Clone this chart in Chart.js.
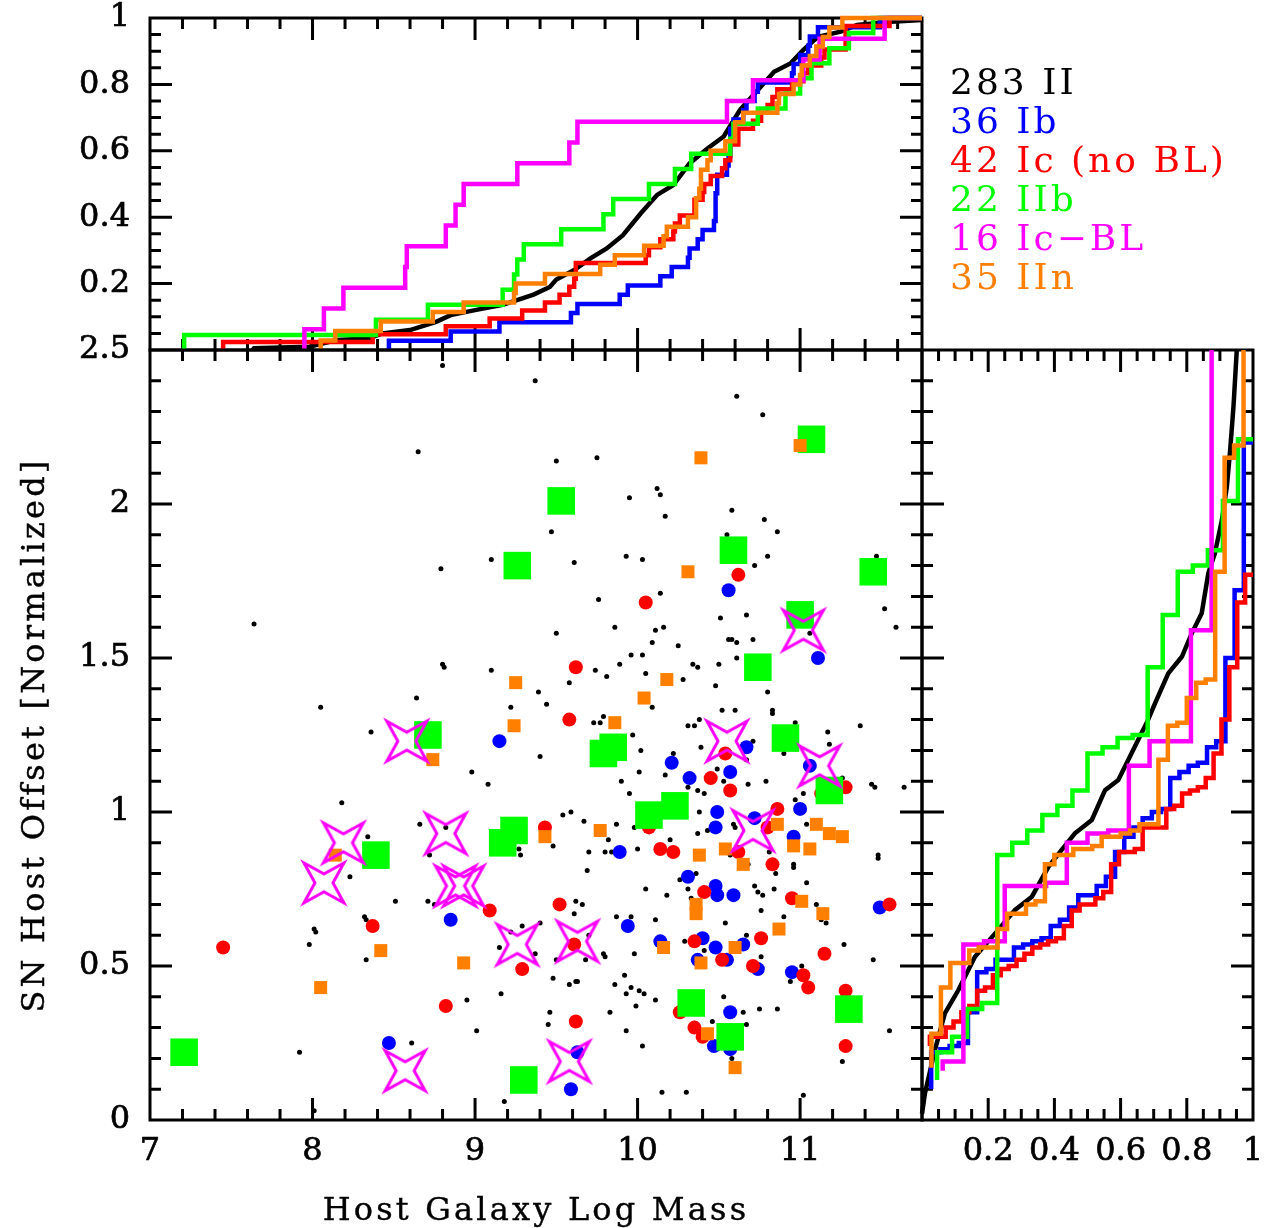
<!DOCTYPE html>
<html>
<head>
<meta charset="utf-8">
<script src="https://cdn.jsdelivr.net/npm/chart.js@4.4.1/dist/chart.umd.min.js"></script>
<style>
  html, body { margin: 0; background: #fff; }
  #wrap { position: relative; width: 1265px; height: 1228px; overflow: hidden; font-family: "DejaVu Serif", serif; }
  #wrap canvas { position: absolute; left: 0; top: 0; }
  .lab { position: absolute; white-space: pre; color: #000; }
  #xtitle { left: 136px; width: 800px; top: 1189px; text-align: center; font-size: 32px; line-height: 40px; letter-spacing: 3.2px; -webkit-text-stroke: 0.4px #000; }
  #ytitle { left: -317px; top: 715px; width: 700px; text-align: center; font-size: 32px; line-height: 40px; letter-spacing: 3.2px; transform: rotate(-90deg); -webkit-text-stroke: 0.4px #000; }
  #legend { left: 950px; top: 62px; font-size: 36px; line-height: 39px; letter-spacing: 3px; }
</style>
</head>
<body>
<div id="wrap">
  <canvas id="cTop" width="1265" height="1228"></canvas>
  <canvas id="cMain" width="1265" height="1228"></canvas>
  <canvas id="cSide" width="1265" height="1228"></canvas>
  <div class="lab" id="xtitle">Host Galaxy Log Mass</div>
  <div class="lab" id="ytitle">SN Host Offset [Normalized]</div>
  <div class="lab" id="legend"></div>
</div>
<script>
// ===== 資料 (mass, normalized offset) =====
const typeII = [
  [8.80,2.45],[9.37,2.40],[8.65,2.17],[9.10,1.82],[8.79,1.79],[7.64,1.61],[8.80,1.48],[8.81,1.47],[9.10,1.46],[8.64,1.37],
  [8.05,1.34],[9.22,1.34],[8.36,1.26],
  [10.61,2.35],[10.77,2.29],[9.50,2.14],[9.75,2.15],[10.12,2.05],[10.14,2.03],[9.95,2.02],[10.17,1.96],[10.58,1.98],[10.78,1.95],
  [10.86,1.91],[9.47,1.91],[10.55,1.90],[9.61,1.81],[9.93,1.83],[10.03,1.82],[10.80,1.83],[10.72,1.80],[11.47,1.83],[10.14,1.71],
  [9.76,1.69],[11.52,1.66],[10.51,1.63],[10.67,1.64],[11.59,1.60],[9.50,1.58],[9.86,1.60],[10.11,1.59],[10.16,1.60],[10.56,1.56],
  [10.58,1.56],[10.61,1.55],[10.71,1.56],[11.06,1.58],[10.09,1.55],[10.25,1.54],[9.96,1.51],[10.03,1.51],[9.89,1.48],[10.34,1.48],
  [10.37,1.47],[10.50,1.48],[10.61,1.50],[9.74,1.46],[9.81,1.44],[10.05,1.45],[10.28,1.43],[9.58,1.42],[10.48,1.41],[10.80,1.39],
  [9.39,1.39],[9.44,1.35],[10.09,1.34],[10.52,1.33],[10.60,1.33],[10.83,1.33],[10.83,1.32],[9.79,1.31],[9.77,1.29],[9.73,1.29],
  [10.38,1.30],[10.31,1.28],[10.35,1.28],[10.97,1.29],[11.17,1.26],[11.37,1.28],[9.97,1.25],
  [8.98,1.13],[9.08,1.09],[8.18,1.03],[8.66,0.96],[8.82,0.95],[8.34,0.92],[8.72,0.86],[9.27,0.88],[9.28,0.86],[8.23,0.79],
  [8.51,0.71],[8.71,0.71],[8.75,0.70],[8.32,0.66],[8.33,0.65],[8.01,0.62],[8.02,0.61],[7.98,0.57],[8.33,0.52],[9.15,0.56],
  [9.22,0.61],[9.29,0.63],[9.37,0.54],[9.16,0.41],[8.95,0.39],[9.01,0.29],[8.61,0.25],[7.92,0.22],[8.01,0.03],[9.18,0.06],
  [10.71,1.23],[11.18,1.22],[10.39,1.21],[10.02,1.20],[10.22,1.19],[10.90,1.19],[9.40,1.18],[10.67,1.17],[10.49,1.14],[10.01,1.13],
  [10.17,1.12],[9.90,1.10],[10.53,1.10],[10.79,1.10],[10.68,1.09],[10.31,1.08],[10.37,1.07],[10.41,1.06],[9.95,1.06],[10.97,1.04],
  [11.02,1.06],[11.44,1.09],[11.46,1.08],[11.64,1.08],[11.26,1.11],
  [9.54,0.99],[9.59,1.00],[9.67,0.97],[9.87,0.96],[9.98,0.95],[9.82,0.91],[9.48,0.89],[9.70,0.87],[9.80,0.87],[9.84,0.87],
  [10.00,0.88],[10.20,0.91],[10.38,1.00],[10.37,0.93],[10.43,0.94],[10.59,0.96],[10.60,0.95],[10.57,0.86],[10.68,0.83],[10.85,0.80],
  [10.81,0.87],[10.96,0.83],[10.96,0.82],[11.04,0.96],[11.48,0.86],[11.48,0.85],
  [9.69,0.81],[10.05,0.75],[10.18,0.73],[10.26,0.78],[10.36,0.80],[10.31,0.75],[10.33,0.72],[10.72,0.76],[10.74,0.74],[10.77,0.73],
  [10.84,0.75],[11.04,0.77],[10.76,0.68],[9.62,0.71],[9.66,0.70],[9.61,0.67],[9.87,0.66],[9.96,0.66],[10.11,0.65],[10.54,0.64],
  [10.90,0.66],[11.10,0.70],[11.13,0.65],[11.16,0.64],[11.27,0.57],[11.45,0.52],[9.40,0.64],[9.70,0.60],[9.50,0.52],[9.68,0.52],
  [9.79,0.54],[9.80,0.53],[9.98,0.54],[10.29,0.58],[10.41,0.55],[10.67,0.60],[10.76,0.53],
  [9.48,0.46],[9.58,0.44],[9.62,0.45],[9.63,0.45],[9.92,0.47],[9.86,0.44],[9.96,0.43],[10.01,0.42],[10.04,0.41],[9.93,0.41],
  [10.11,0.39],[11.01,0.50],[10.94,0.45],[10.53,0.40],[10.65,0.35],[10.75,0.36],[10.86,0.36],[9.46,0.35],[9.83,0.35],[9.99,0.37],
  [9.45,0.31],[9.93,0.29],[10.46,0.32],[10.67,0.31],[10.03,0.24],[11.55,0.29],[10.58,0.20],[11.26,0.19],[10.15,0.09],[10.30,0.09],
  [11.02,0.08]
];
const typeIb = [
  [9.15,1.23],[10.56,1.72],[11.11,1.50],[8.85,0.65],[8.47,0.25],[10.21,1.16],[10.32,1.11],[10.57,1.13],[10.67,1.21],[11.06,1.15],
  [10.49,1.00],[10.48,0.95],[10.72,0.98],[11.00,1.01],[10.96,0.92],[9.89,0.87],[10.31,0.79],[10.48,0.76],[10.49,0.73],[10.59,0.73],
  [9.94,0.63],[10.14,0.58],[10.40,0.59],[10.48,0.56],[10.65,0.57],[10.37,0.52],[10.55,0.52],[10.74,0.49],[10.95,0.48],[11.49,0.69],
  [10.57,0.35],[10.47,0.24],[10.57,0.23],[9.63,0.22],[9.59,0.10],[11.05,2.20]
];
const typeIc = [
  [10.62,1.77],[10.05,1.68],[9.62,1.47],[9.58,1.30],[8.37,0.63],[9.09,0.68],[7.45,0.56],[9.29,0.49],[8.82,0.37],[9.43,0.95],
  [10.07,0.95],[10.14,0.88],[10.22,0.87],[10.45,1.11],[10.57,1.07],[10.54,1.19],[10.86,1.01],[11.28,1.08],[11.13,1.06],[10.62,0.87],
  [10.83,0.83],[10.80,0.95],[10.41,0.74],[9.52,0.70],[10.95,0.72],[11.55,0.70],[10.35,0.58],[10.76,0.59],[9.61,0.57],[10.52,0.52],
  [10.71,0.50],[11.15,0.54],[11.02,0.47],[11.05,0.43],[11.28,0.42],[9.62,0.32],[10.26,0.35],[10.35,0.30],[10.40,0.27],[11.28,0.24],
  [10.57,0.27],[10.23,1.02]
];
const typeIIb = [
  [9.26,1.80],[8.71,1.25],[11.07,2.21],[9.53,2.01],[10.59,1.85],[11.45,1.78],[11.00,1.64],[10.74,1.47],[10.91,1.24],[9.24,0.94],
  [9.17,0.90],[8.39,0.86],[7.21,0.22],[9.30,0.13],[9.79,1.19],[9.85,1.21],[11.18,1.07],[10.23,1.02],[10.07,0.99],[10.33,0.38],
  [10.57,0.27],[11.30,0.36]
];
const typeIcBL = [
  [8.58,1.23],[11.02,1.59],[10.55,1.23],[8.19,0.90],[8.07,0.77],[8.82,0.93],[8.88,0.76],[8.93,0.76],[9.26,0.57],[8.57,0.16],
  [9.63,0.58],[9.58,0.19],[10.71,0.94],[11.12,1.15],[7.95,2.80],[11.52,2.90]
];
const typeIIn = [
  [9.25,1.42],[9.24,1.28],[11.00,2.19],[10.39,2.15],[10.31,1.78],[10.18,1.43],[10.04,1.37],[9.86,1.29],[8.74,1.17],[8.14,0.86],
  [8.42,0.55],[8.93,0.51],[8.05,0.43],[9.43,0.92],[9.77,0.94],[10.38,0.86],[10.54,0.88],[10.65,0.83],[10.86,0.96],[10.96,0.89],
  [11.06,0.88],[11.10,0.96],[11.18,0.93],[11.26,0.92],[10.36,0.70],[10.36,0.67],[11.01,0.71],[11.14,0.67],[10.87,0.62],[10.16,0.56],
  [10.60,0.56],[10.39,0.51],[10.43,0.28],[10.60,0.17],[10.45,2.80]
];

// 全部 283 個 II 型的累積分佈（圖上讀值，散點並未全部可見）
const cdfIIMass = [7.63,7.64,7.98,8.15,8.35,8.43,8.60,8.76,8.85,9.00,9.17,9.36,9.46,9.50,9.61,9.71,9.81,9.91,10.02,10.12,
  10.22,10.32,10.43,10.53,10.63,10.74,10.84,10.94,11.02,11.11,11.25,11.35,11.56,11.75];
const cdfIIMassFrac = [0,0.005,0.010,0.030,0.035,0.050,0.060,0.085,0.105,0.120,0.136,0.167,0.190,0.212,0.241,0.276,0.306,0.346,0.412,0.467,
  0.497,0.562,0.607,0.643,0.723,0.783,0.838,0.863,0.904,0.943,0.959,0.979,0.989,0.994];
const cdfIIOffFrac = [0,0.009,0.039,0.069,0.110,0.160,0.221,0.281,0.332,0.382,0.422,0.462,0.513,0.553,0.593,0.623,0.663,0.683,0.704,0.744,
  0.785,0.815,0.845,0.865,0.885,0.906,0.921,0.931,0.941,0.951];
const cdfIIOff = [0.02,0.087,0.227,0.346,0.422,0.530,0.606,0.682,0.725,0.822,0.877,0.931,0.974,1.071,1.104,1.169,1.256,1.299,1.353,1.450,
  1.504,1.580,1.645,1.775,1.840,1.948,2.056,2.175,2.316,2.5];

const legendNames = ['II', 'Ib', 'Ic (no BL)', 'IIb', 'Ic\u2212BL', 'IIn'];
const legendCounts = [283, 36, 42, 22, 16, 35];
const massTicks = [7, 8, 9, 10, 11];
const offsetTicks = [0, 0.5, 1, 1.5, 2, 2.5];
const fracTicks = [0.2, 0.4, 0.6, 0.8, 1];

// ===== 版面 =====
const W = 1265, H = 1228;
const MASS = [7, 11.75], OFF = [0, 2.5], FRAC = [0, 1];
const AREA = {
  top:  { left: 150, top: 18,  right: 922,  bottom: 350 },
  main: { left: 150, top: 350, right: 922,  bottom: 1120 },
  side: { left: 922, top: 350, right: 1253, bottom: 1120 }
};
const COL = { II: '#000000', Ib: '#0000ff', Ic: '#ff0000', IIb: '#00ff00', IcBL: '#ff00ff', IIn: '#ff8000' };
const legendCols = [COL.II, COL.Ib, COL.Ic, COL.IIb, COL.IcBL, COL.IIn];

const steps = (a, b, d) => { const o = []; for (let v = a; v <= b + 1e-9; v += d) o.push(+v.toFixed(4)); return o; };

// ===== 框線與內刻度 =====
const framePlugin = {
  id: 'frame',
  beforeDatasetsDraw(chart, args, o) {
    const { ctx, chartArea: a, scales: { x, y } } = chart;
    ctx.save();
    ctx.strokeStyle = '#000'; ctx.lineWidth = 3; ctx.lineCap = 'butt';
    ctx.beginPath();
    const xt = (vals, len) => vals.forEach(v => {
      if (v <= x.min || v >= x.max) return;
      const p = x.getPixelForValue(v);
      ctx.moveTo(p, a.bottom); ctx.lineTo(p, a.bottom - len);
      ctx.moveTo(p, a.top); ctx.lineTo(p, a.top + len);
    });
    const yt = (vals, len) => vals.forEach(v => {
      if (v <= y.min || v >= y.max) return;
      const p = y.getPixelForValue(v);
      ctx.moveTo(a.left, p); ctx.lineTo(a.left + len, p);
      ctx.moveTo(a.right, p); ctx.lineTo(a.right - len, p);
    });
    xt(o.xMinor, 11); xt(o.xMajor, 22); yt(o.yMinor, 11); yt(o.yMajor, 22);
    ctx.stroke();
    ctx.strokeRect(a.left, a.top, a.right - a.left, a.bottom - a.top);
    ctx.fillStyle = '#000'; ctx.font = '32px "DejaVu Serif"';
    ctx.lineWidth = 0.7;
    ctx.textAlign = 'center'; ctx.textBaseline = 'middle';
    const put = (t, px, py) => { ctx.fillText(t, px, py); ctx.strokeText(t, px, py); };
    o.xLabels.forEach(v => put(String(v), x.getPixelForValue(v), a.bottom + 32));
    ctx.textAlign = 'right';
    o.yLabels.forEach(v => put(String(v), a.left - 20, y.getPixelForValue(v)));
    ctx.restore();
  }
};

function makeChart(id, area, xr, yr, datasets, frame) {
  return new Chart(document.getElementById(id), {
    type: 'scatter',
    data: { datasets },
    options: {
      responsive: false, animation: false, devicePixelRatio: 1, events: [],
      layout: { padding: { left: area.left, top: area.top, right: W - area.right, bottom: H - area.bottom } },
      scales: {
        x: { type: 'linear', min: xr[0], max: xr[1], display: false },
        y: { type: 'linear', min: yr[0], max: yr[1], display: false }
      },
      plugins: { legend: { display: false }, tooltip: { enabled: false }, frame }
    },
    plugins: [framePlugin]
  });
}

// ===== 累積分佈 =====
function massCdf(pts) {
  const m = pts.map(p => p[0]).sort((a, b) => a - b), n = m.length;
  const out = [{ x: m[0], y: 0 }];
  m.forEach((v, i) => out.push({ x: v, y: (i + 1) / n }));
  out.push({ x: MASS[1], y: 1 });
  return out;
}
function offCdf(pts) {
  const o = pts.map(p => p[1]).sort((a, b) => a - b), n = o.length;
  return o.map((v, i) => ({ x: (i + 1) / n, y: v }));
}
const xy = (xs, ys) => xs.map((v, i) => ({ x: v, y: ys[i] }));
const pts = arr => arr.map(p => ({ x: p[0], y: p[1] }));

function starIcon() {
  const c = document.createElement('canvas'); c.width = c.height = 52;
  const g = c.getContext('2d'), R = 20, r = 9, m = 26;
  g.strokeStyle = COL.IcBL; g.lineWidth = 3; g.lineJoin = 'miter'; g.miterLimit = 4;
  g.beginPath();
  g.moveTo(m - R, m - R); g.lineTo(m, m - r); g.lineTo(m + R, m - R); g.lineTo(m + r, m);
  g.lineTo(m + R, m + R); g.lineTo(m, m + r); g.lineTo(m - R, m + R); g.lineTo(m - r, m);
  g.closePath(); g.stroke();
  return c;
}

const colored = [
  [typeIb, COL.Ib], [typeIc, COL.Ic], [typeIIb, COL.IIb], [typeIcBL, COL.IcBL], [typeIIn, COL.IIn]
];
const lineDs = (data, color, order, stepped, clip) => ({
  data, showLine: true, pointRadius: 0, borderColor: color, borderWidth: 4.5,
  borderJoinStyle: 'miter', stepped, clip, order
});

// 上圖：質量累積分佈
const topClip = { left: 0, top: 5, right: 0, bottom: 0 };
makeChart('cTop', AREA.top, MASS, FRAC, [
  lineDs(xy(cdfIIMass, cdfIIMassFrac), COL.II, 10, false, topClip),
  ...colored.map(([d, c], i) => lineDs(massCdf(d), c, 9 - i, true, topClip))
], { xMajor: steps(7, 11, 1), xMinor: steps(7, 11.6, 0.2), yMajor: steps(0, 1, 0.2), yMinor: steps(0, 1, 0.05), xLabels: [], yLabels: fracTicks });

// 右圖：距離累積分佈
const sideClip = { left: 5, top: 0, right: 5, bottom: 0 };
makeChart('cSide', AREA.side, FRAC, OFF, [
  lineDs(xy(cdfIIOffFrac, cdfIIOff), COL.II, 10, false, sideClip),
  ...colored.map(([d, c], i) => lineDs(offCdf(d), c, 9 - i, 'after', sideClip))
], { xMajor: steps(0, 1, 0.2), xMinor: steps(0, 1, 0.05), yMajor: steps(0, 2.5, 0.5), yMinor: steps(0, 2.5, 0.1), xLabels: fracTicks, yLabels: [] });

// 主圖：散點
const dot = (data, style, radius, color, order) => ({
  data: pts(data), pointStyle: style, pointRadius: radius, pointBackgroundColor: color,
  pointBorderWidth: 0, pointBorderColor: color, order
});
makeChart('cMain', AREA.main, MASS, OFF, [
  dot(typeII, 'circle', 2.5, COL.II, 6),
  dot(typeIb, 'circle', 7, COL.Ib, 5),
  dot(typeIc, 'circle', 7, COL.Ic, 4),
  dot(typeIIb, 'rect', 19.5, COL.IIb, 3),
  dot(typeIIn, 'rect', 9.2, COL.IIn, 2),
  dot(typeIcBL, starIcon(), 20, COL.IcBL, 1)
], { xMajor: steps(7, 11, 1), xMinor: steps(7, 11.6, 0.2), yMajor: steps(0, 2.5, 0.5), yMinor: steps(0, 2.5, 0.1), xLabels: massTicks, yLabels: offsetTicks });

// ===== 圖例 =====
const legendBox = document.getElementById('legend');
legendNames.forEach((t, i) => {
  legendBox.insertAdjacentHTML('beforeend', `<div style="color:${legendCols[i]}">${legendCounts[i]} ${t}</div>`);
});
</script>
</body>
</html>
